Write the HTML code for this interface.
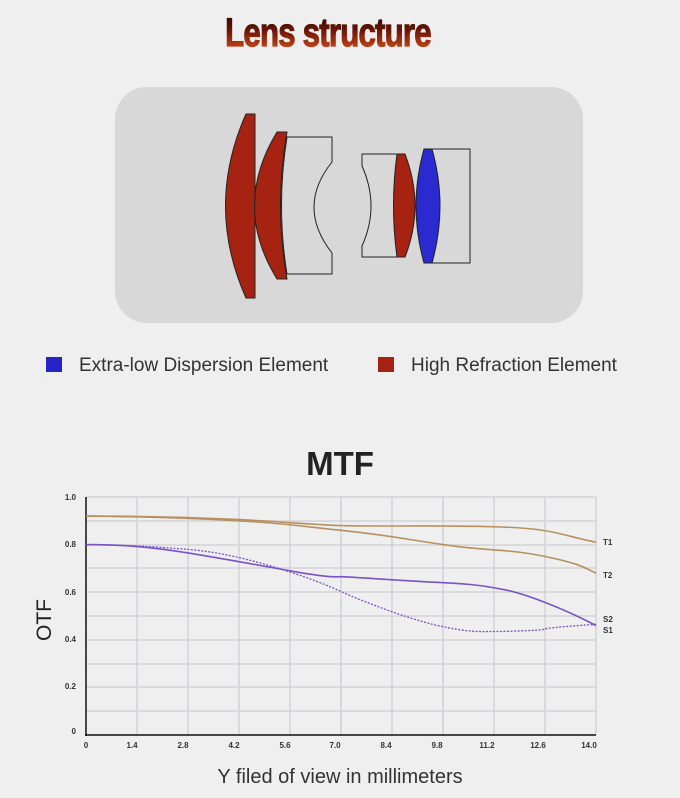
<!DOCTYPE html>
<html><head><meta charset="utf-8"><style>
html,body{margin:0;padding:0;background:#efefef;}
body{width:680px;height:798px;position:relative;overflow:hidden;font-family:"Liberation Sans",sans-serif;}
</style></head><body>
<svg width="680" height="798" viewBox="0 0 680 798" xmlns="http://www.w3.org/2000/svg" style="position:absolute;left:0;top:0">
<defs>
<linearGradient id="tg" x1="0" y1="0" x2="0" y2="1">
<stop offset="0" stop-color="#1a0603"/><stop offset="0.45" stop-color="#6a1606"/><stop offset="1" stop-color="#e8561c"/>
</linearGradient>
</defs>
<text x="328" y="46" text-anchor="middle" font-family="Liberation Sans Narrow, Liberation Sans, sans-serif" font-weight="bold" font-size="40" fill="url(#tg)" stroke="url(#tg)" stroke-width="1.2" transform="translate(328,0) scale(0.78,1) translate(-328,0)" letter-spacing="-1">Lens structure</text>
<rect x="115" y="87" width="468" height="236" rx="32" fill="#d8d8d8"/>
<path d="M246,114 L255,114 L255,298 L246,298 Q205,206 246,114 Z" fill="#a52310" stroke="#222" stroke-width="1"/>
<path d="M277,132 L287,132 Q274,206 287,279 L277,279 Q232,206 277,132 Z" fill="#a52310" stroke="#222" stroke-width="1"/>
<path d="M287,137 L332,137 L332,162 Q296,207 332,253 L332,274 L287,274 Q276,206 287,137 Z" fill="none" stroke="#222" stroke-width="1"/>
<path d="M362,154 L400,154 L400,257 L362,257 L362,246 Q380,206 362,166 Z" fill="none" stroke="#222" stroke-width="1"/>
<path d="M397,154 L405,154 Q425,206 405,257 L397,257 Q390,206 397,154 Z" fill="#a52310" stroke="#222" stroke-width="1"/>
<path d="M424,149 L432,149 Q448,206 432,263 L424,263 Q408,206 424,149 Z" fill="#2a2ad0" stroke="#222" stroke-width="1"/>
<path d="M432,149 L470,149 L470,263 L432,263" fill="none" stroke="#222" stroke-width="1"/>
<rect x="46" y="357" width="16" height="15" fill="#2424c8"/>
<text x="79" y="371" font-size="19" fill="#333">Extra-low Dispersion Element</text>
<rect x="378" y="357" width="16" height="15" fill="#a52310"/>
<text x="411" y="371" font-size="19" fill="#333">High Refraction Element</text>
<text x="340" y="475" text-anchor="middle" font-size="33" font-weight="bold" fill="#222">MTF</text>
<text transform="translate(51,620) rotate(-90)" text-anchor="middle" font-size="21" fill="#222">OTF</text>
<text x="340" y="783" text-anchor="middle" font-size="20" fill="#333">Y filed of view in millimeters</text>
<g stroke="#d2d2d8" stroke-width="1.5">
<line x1="137" y1="497" x2="137" y2="735"/><line x1="188" y1="497" x2="188" y2="735"/><line x1="239" y1="497" x2="239" y2="735"/><line x1="290" y1="497" x2="290" y2="735"/><line x1="341" y1="497" x2="341" y2="735"/><line x1="392" y1="497" x2="392" y2="735"/><line x1="443" y1="497" x2="443" y2="735"/><line x1="494" y1="497" x2="494" y2="735"/><line x1="545" y1="497" x2="545" y2="735"/><line x1="596" y1="497" x2="596" y2="735"/>
<line x1="86" y1="497" x2="596" y2="497"/><line x1="86" y1="521" x2="596" y2="521"/><line x1="86" y1="545" x2="596" y2="545"/><line x1="86" y1="568" x2="596" y2="568"/><line x1="86" y1="592" x2="596" y2="592"/><line x1="86" y1="616" x2="596" y2="616"/><line x1="86" y1="640" x2="596" y2="640"/><line x1="86" y1="664" x2="596" y2="664"/><line x1="86" y1="687" x2="596" y2="687"/><line x1="86" y1="711" x2="596" y2="711"/>
</g>
<line x1="86" y1="497" x2="86" y2="736" stroke="#111" stroke-width="1.5"/>
<line x1="85" y1="735" x2="596" y2="735" stroke="#111" stroke-width="1.5"/>
<g font-size="8" font-weight="bold" fill="#333" text-anchor="end">
<text x="76" y="500">1.0</text><text x="76" y="547">0.8</text><text x="76" y="595">0.6</text><text x="76" y="642">0.4</text><text x="76" y="689">0.2</text><text x="76" y="734">0</text>
</g>
<g font-size="8" font-weight="bold" fill="#333" text-anchor="middle">
<text x="86" y="748">0</text><text x="132" y="748">1.4</text><text x="183" y="748">2.8</text><text x="234" y="748">4.2</text><text x="285" y="748">5.6</text><text x="335" y="748">7.0</text><text x="386" y="748">8.4</text><text x="437" y="748">9.8</text><text x="487" y="748">11.2</text><text x="538" y="748">12.6</text><text x="589" y="748">14.0</text>
</g>
<g font-size="8" font-weight="bold" fill="#333">
<text x="603" y="545">T1</text><text x="603" y="578">T2</text><text x="603" y="622">S2</text><text x="603" y="633">S1</text>
</g>
<g transform="translate(86,735) scale(36.4286,-238)" fill="none">
<path vector-effect="non-scaling-stroke" stroke="#b89060" stroke-width="1.6" d="M0,0.92 C1.5,0.92 2.8,0.915 4.2,0.905 S6,0.885 7,0.88 S9.5,0.882 11.2,0.875 S13,0.84 14,0.81"/>
<path vector-effect="non-scaling-stroke" stroke="#b89060" stroke-width="1.6" d="M0,0.92 C1.5,0.918 2.8,0.912 4.2,0.9 S6,0.875 7,0.86 S8.5,0.83 9.8,0.8 S11.5,0.785 12.6,0.75 S13.7,0.7 14,0.68"/>
<path vector-effect="non-scaling-stroke" stroke="#7b52c8" stroke-width="1.6" d="M0,0.8 C1,0.8 1.8,0.79 2.8,0.765 S4.5,0.72 5.6,0.69 S6.8,0.665 7,0.665 S9,0.645 9.8,0.64 S11,0.625 11.5,0.61 S13,0.54 14,0.46"/>
<path vector-effect="non-scaling-stroke" stroke="#7b52c8" stroke-width="1.3" stroke-dasharray="2,1.5" d="M0,0.8 C1,0.8 2,0.79 2.8,0.78 S4.5,0.74 5.6,0.685 S7,0.6 7.5,0.57 S9,0.48 9.8,0.455 S10.8,0.435 11.2,0.435 S12.6,0.44 12.6,0.445 S13.5,0.46 14,0.465"/>
</g>
</svg>
</body></html>
